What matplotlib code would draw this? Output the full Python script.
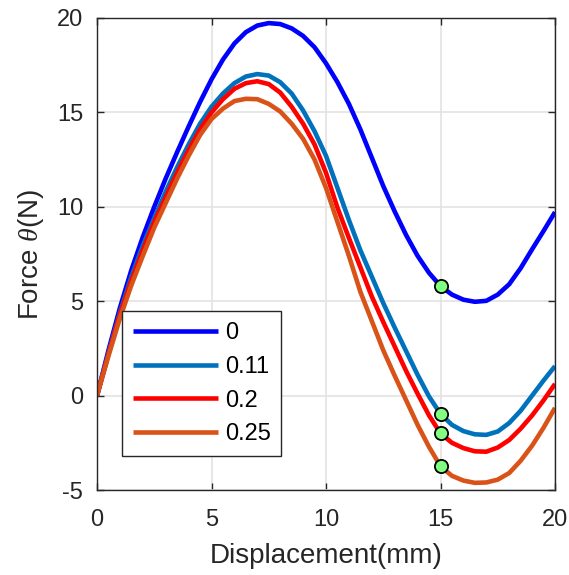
import matplotlib
matplotlib.use("Agg")
import matplotlib.pyplot as plt
import numpy as np

plt.rcParams['font.family'] = ['Liberation Sans', 'DejaVu Sans']
plt.rcParams['mathtext.fontset'] = 'custom'
plt.rcParams['mathtext.rm'] = 'Liberation Sans'
plt.rcParams['mathtext.it'] = 'Liberation Serif:italic'
plt.rcParams['axes.unicode_minus'] = False

# displacement samples (mm)
disp = np.arange(0, 20.5, 0.5)

# force readings (N) for each parameter value
force_0 = [0, 2.4, 4.65, 6.65, 8.4, 10.0, 11.5, 12.9, 14.25, 15.55, 16.75, 17.8,
           18.65, 19.25, 19.6, 19.73, 19.68, 19.45, 19.05, 18.45, 17.6, 16.6, 15.45,
           14.1, 12.6, 11.1, 9.75, 8.5, 7.4, 6.5, 5.8, 5.35, 5.08, 4.97, 5.02,
           5.35, 5.9, 6.75, 7.75, 8.72, 9.72]
force_011 = [0, 2.25, 4.4, 6.3, 7.95, 9.4, 10.8, 12.1, 13.3, 14.4, 15.3, 16.0,
             16.55, 16.9, 17.03, 16.95, 16.6, 16.0, 15.1, 14.0, 12.7, 11.0, 9.3,
             7.7, 6.3, 4.9, 3.6, 2.35, 1.1, -0.05, -0.97, -1.55, -1.88, -2.05,
             -2.08, -1.9, -1.45, -0.8, 0.0, 0.8, 1.56]
force_02 = [0, 2.2, 4.3, 6.1, 7.7, 9.2, 10.5, 11.8, 13.0, 14.1, 15.0, 15.7,
            16.25, 16.55, 16.65, 16.5, 16.05, 15.3, 14.4, 13.3, 11.8, 9.95, 8.35,
            6.8, 5.25, 3.9, 2.6, 1.3, 0.1, -1.05, -2.0, -2.5, -2.78, -2.95,
            -2.97, -2.75, -2.35, -1.75, -1.05, -0.25, 0.62]
force_025 = [0, 2.1, 4.1, 5.85, 7.4, 8.9, 10.2, 11.5, 12.7, 13.8, 14.65, 15.2,
             15.6, 15.72, 15.7, 15.45, 15.05, 14.4, 13.6, 12.5, 11.0, 9.2, 7.4,
             5.5, 3.95, 2.4, 1.05, -0.25, -1.55, -2.72, -3.74, -4.25, -4.5, -4.62,
             -4.6, -4.45, -4.1, -3.45, -2.65, -1.7, -0.65]

labels = ['0', '0.11', '0.2', '0.25']
colors = ['#0000FF', '#0072BD', '#FF0000', '#D95319']

# marked points at 15 mm
mark_x = [15, 15, 15, 15]
mark_y = [5.8, -0.97, -2.0, -3.74]

fig = plt.figure(figsize=(5.69, 5.75), dpi=100)
ax = fig.add_axes([0.1705, 0.1478, 0.8049, 0.8209])

for f, lab, c in zip([force_0, force_011, force_02, force_025], labels, colors):
    ax.plot(disp, f, color=c, lw=3.3, label=lab, solid_capstyle='butt',
            solid_joinstyle='round')

ax.plot(mark_x, mark_y, 'o', ms=9.5, mfc='#80FF80', mec='black', mew=1.3,
        zorder=5)

ax.set_xlim(0, 20)
ax.set_ylim(-5, 20)
ax.set_xticks([0, 5, 10, 15, 20])
ax.set_yticks([-5, 0, 5, 10, 15, 20])
ax.grid(True, color='#E3E3E3', lw=1.2)
ax.set_axisbelow(True)
ax.tick_params(direction='in', length=5, width=1, labelsize=17,
               colors='#262626', top=True, right=True,
               labeltop=False, labelright=False)
ax.tick_params(axis='x', pad=14)
ax.tick_params(axis='y', pad=10)
for s in ax.spines.values():
    s.set_color('#262626')
    s.set_linewidth(1.0)

ax.set_xlabel('Displacement(mm)', fontsize=20, color='#262626', labelpad=8)
ax.set_ylabel('Force $\\theta$(N)', fontsize=20, color='#262626', labelpad=8)

leg = ax.legend(loc='lower left', bbox_to_anchor=(0.055, 0.072), fontsize=17,
                handlelength=3.6, handletextpad=0.3, labelspacing=0.5,
                borderpad=0.45, fancybox=False, framealpha=1,
                edgecolor='#262626', borderaxespad=0)
leg.get_frame().set_linewidth(1.0)

fig.savefig('out.png', dpi=100)
